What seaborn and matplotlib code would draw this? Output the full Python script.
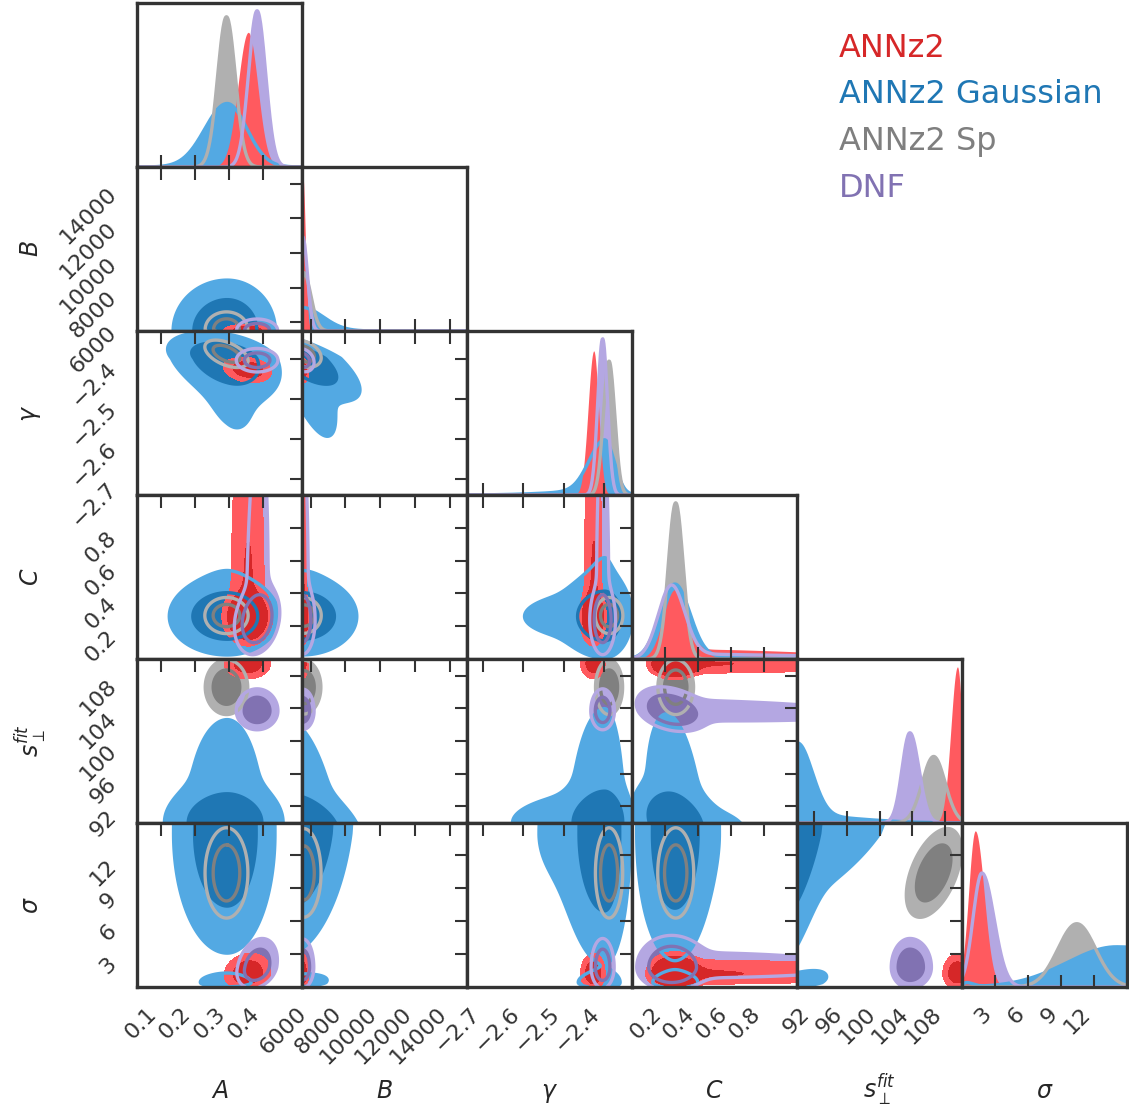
import numpy as np
import matplotlib
matplotlib.use("Agg")
import matplotlib.pyplot as plt
import seaborn as sns

# parameters of the triangle plot
par_labels = [r"$A$", r"$B$", r"$\gamma$", r"$C$", r"$s_{\perp}^{fit}$", r"$\sigma$"]
par_lims = [(0.03, 0.515), (5510, 14960), (-2.74, -2.33), (0.0, 1.0), (89.95, 110.05), (0.0, 14.95)]
tick_vals = [[0.1, 0.2, 0.3, 0.4], [6000, 8000, 10000, 12000, 14000],
             [-2.7, -2.6, -2.5, -2.4], [0.2, 0.4, 0.6, 0.8],
             [92, 96, 100, 104, 108], [3, 6, 9, 12]]
tick_text = [["0.1", "0.2", "0.3", "0.4"], ["6000", "8000", "10000", "12000", "14000"],
             ["\u22122.7", "\u22122.6", "\u22122.5", "\u22122.4"], ["0.2", "0.4", "0.6", "0.8"],
             ["92", "96", "100", "104", "108"], ["3", "6", "9", "12"]]

datasets = ["ANNz2", "ANNz2 Gaussian", "ANNz2 Sp", "DNF"]

# peak, left width, right width for A, B, gamma, C, s, sigma
annz2_peak = [0.357, 5550, -2.425, 0.26, 109.5, 1.2]
annz2_left = [0.030, 60, 0.014, 0.07, 0.8, 0.6]
annz2_right = [0.028, 150, 0.012, 0.065, 0.6, 0.8]
# extra bumps / tails: (param, height, peak, left, right)
annz2_tail = [(3, 0.17, 0.26, 0.07, 0.9)]

gauss_peak = [0.295, 5510, -2.398, 0.26, 90.0, 14.0]
gauss_left = [0.065, 50, 0.038, 0.09, 1.0, 4.5]
gauss_right = [0.058, 1200, 0.024, 0.09, 1.8, 8.0]
gauss_tail = [(2, 0.08, -2.40, 0.12, 0.024), (3, 0.04, 0.26, 0.09, 0.3),
              (4, 0.10, 90.0, 1.0, 7.0), (5, 0.10, 0.4, 0.3, 0.6)]

sp_peak = [0.293, 5600, -2.387, 0.265, 106.6, 10.4]
sp_left = [0.026, 100, 0.014, 0.045, 1.4, 1.7]
sp_right = [0.026, 420, 0.014, 0.045, 1.4, 1.7]
sp_tail = []

dnf_peak = [0.383, 5550, -2.403, 0.24, 103.7, 1.8]
dnf_left = [0.025, 60, 0.012, 0.08, 0.95, 0.8]
dnf_right = [0.025, 270, 0.012, 0.08, 1.1, 1.1]
dnf_tail = [(3, 0.07, 0.24, 0.08, 0.9)]

# correlation in each 2D panel (x param, y param)
pairs = [(0, 1), (0, 2), (1, 2), (0, 3), (1, 3), (2, 3), (0, 4), (1, 4),
         (2, 4), (3, 4), (0, 5), (1, 5), (2, 5), (3, 5), (4, 5)]
annz2_rho = [0, -0.2, -0.2, 0, 0, 0, 0, 0, 0, 0, 0.1, 0, 0, 0, 0]
gauss_rho = [0, -0.35, -0.75, 0, 0, 0, 0, -0.4, 0, -0.3, 0, 0.3, 0, 0, 0.6]
sp_rho = [0, -0.5, -0.3, 0, 0, 0, 0, 0, 0, 0, 0, 0, 0, 0, 0.5]
dnf_rho = [0, 0, -0.2, 0.2, 0, 0, 0, 0, 0, -0.3, 0.25, 0, 0, 0, 0]

text_colors = ["#d62728", "#1f77b4", "#7f7f7f", "#8172b2"]
light_colors = ["#ff5a5f", "#53a9e3", "#b0b0b0", "#b4a7e2"]
dark_colors = ["#d62728", "#1f77b4", "#808080", "#8172b2"]

peaks = [annz2_peak, gauss_peak, sp_peak, dnf_peak]
lefts = [annz2_left, gauss_left, sp_left, dnf_left]
rights = [annz2_right, gauss_right, sp_right, dnf_right]
tails = [annz2_tail, gauss_tail, sp_tail, dnf_tail]
rhos = [annz2_rho, gauss_rho, sp_rho, dnf_rho]

fill_order = [2, 3, 1, 0]   # Sp, DNF, Gaussian, ANNz2 (on top)
line_order = [1, 2, 3]


def components(d, k):
    out = [(1.0, peaks[d][k], lefts[d][k], rights[d][k])]
    for p, a, m, lo, hi in tails[d]:
        if p == k:
            out.append((a, m, lo, hi))
    return out


def zsplit(x, m, lo, hi):
    return np.where(x < m, (x - m) / lo, (x - m) / hi)


def dens1d(d, k, x):
    f = np.zeros_like(x)
    for a, m, lo, hi in components(d, k):
        f += a * np.exp(-0.5 * zsplit(x, m, lo, hi) ** 2)
    return f


def dens2d(d, i, j, X, Y):
    rho = rhos[d][pairs.index((i, j))]
    P = np.zeros_like(X)
    for a1, m1, l1, h1 in components(d, i):
        zx = zsplit(X, m1, l1, h1)
        for a2, m2, l2, h2 in components(d, j):
            zy = zsplit(Y, m2, l2, h2)
            q = (zx ** 2 - 2 * rho * zx * zy + zy ** 2) / (1 - rho ** 2)
            P += a1 * a2 * np.exp(-0.5 * q)
    return P


def hpd_levels(P):
    flat = np.sort(P.ravel())[::-1]
    cum = np.cumsum(flat)
    cum /= cum[-1]
    return flat[np.searchsorted(cum, 0.95)], flat[np.searchsorted(cum, 0.68)]


sns.set_style("white")
plt.rcParams["font.family"] = ["DejaVu Sans"]
plt.rcParams["mathtext.fontset"] = "dejavusans"

fig, axes = plt.subplots(6, 6, figsize=(11.29, 11.15), dpi=100)
fig.subplots_adjust(left=137 / 1129, right=1127 / 1129, top=1 - 3 / 1115,
                    bottom=1 - 987 / 1115, wspace=0, hspace=0)

grids = [np.linspace(lo, hi, 300) for lo, hi in par_lims]
frame = "#333333"
tick_fs = 16

for r in range(6):
    for c in range(6):
        ax = axes[r, c]
        if c > r:
            ax.axis("off")
            continue
        ax.set_axisbelow(False)
        if r == c:
            x = grids[c]
            dens = []
            for d in range(4):
                f = dens1d(d, c, x)
                dens.append(f / np.trapezoid(f, x))
            for z, d in enumerate(fill_order):
                ax.fill_between(x, 0, dens[d], color=light_colors[d], lw=0, zorder=1.1 + z * 0.1)
            for z, d in enumerate(line_order):
                sns.lineplot(x=x, y=dens[d], ax=ax, color=light_colors[d], lw=2.4,
                             zorder=1.6 + z * 0.1)
            ax.set_ylim(0, max(f.max() for f in dens) * 1.05)
            ax.set_ylabel("")
            ax.set_yticks([])
            ax.tick_params(axis="x", direction="in", length=9, width=1.5, color=frame,
                           bottom=True, top=False, labelsize=tick_fs, labelcolor=frame, pad=12)
        else:
            X, Y = np.meshgrid(grids[c], grids[r])
            Ps = [dens2d(d, c, r, X, Y) for d in range(4)]
            for z, d in enumerate(fill_order):
                P = Ps[d]
                l95, l68 = hpd_levels(P)
                ax.contourf(X, Y, P, levels=[l95, l68, P.max() * 1.1],
                            colors=[light_colors[d], dark_colors[d]], zorder=1.1 + z * 0.1)
            for z, d in enumerate(line_order):
                P = Ps[d]
                l95, l68 = hpd_levels(P)
                ax.contour(X, Y, P, levels=[l95, l68], colors=[light_colors[d], dark_colors[d]],
                           linewidths=2.4, zorder=1.6 + z * 0.1)
            ax.set_ylim(par_lims[r])
            ax.set_yticks(tick_vals[r])
            ax.tick_params(direction="in", length=9, width=1.5, color=frame, top=True,
                           right=True, labelsize=tick_fs, labelcolor=frame, pad=12)
            if c == 0:
                ax.set_yticklabels(tick_text[r], rotation=45, ha="right", va="top")
            else:
                ax.set_yticklabels([])
        ax.set_xlim(par_lims[c])
        ax.set_xticks(tick_vals[c])
        ax.set_xlabel("")
        if r == 5:
            ax.set_xticklabels(tick_text[c], rotation=45, ha="right")
        else:
            ax.set_xticklabels([])
        for sp in ax.spines.values():
            sp.set_linewidth(2.4)
            sp.set_color(frame)
            sp.set_zorder(3)

# axis labels
for k in range(6):
    xc = (137 + 165 * k + 82.5) / 1129
    fig.text(xc, 1 - 1098 / 1115, par_labels[k], fontsize=17, ha="center", va="baseline")
for k in range(1, 6):
    yc = 1 - (3 + 164 * k + 82) / 1115
    fig.text(31 / 1129, yc, par_labels[k], fontsize=17, rotation=90, ha="center", va="center")

# legend
for k, name in enumerate(datasets):
    fig.text(839 / 1129, 1 - (56.7 + 46.7 * k) / 1115, name, fontsize=23,
             color=text_colors[k], ha="left", va="baseline")

fig.savefig("out.png", dpi=100)
